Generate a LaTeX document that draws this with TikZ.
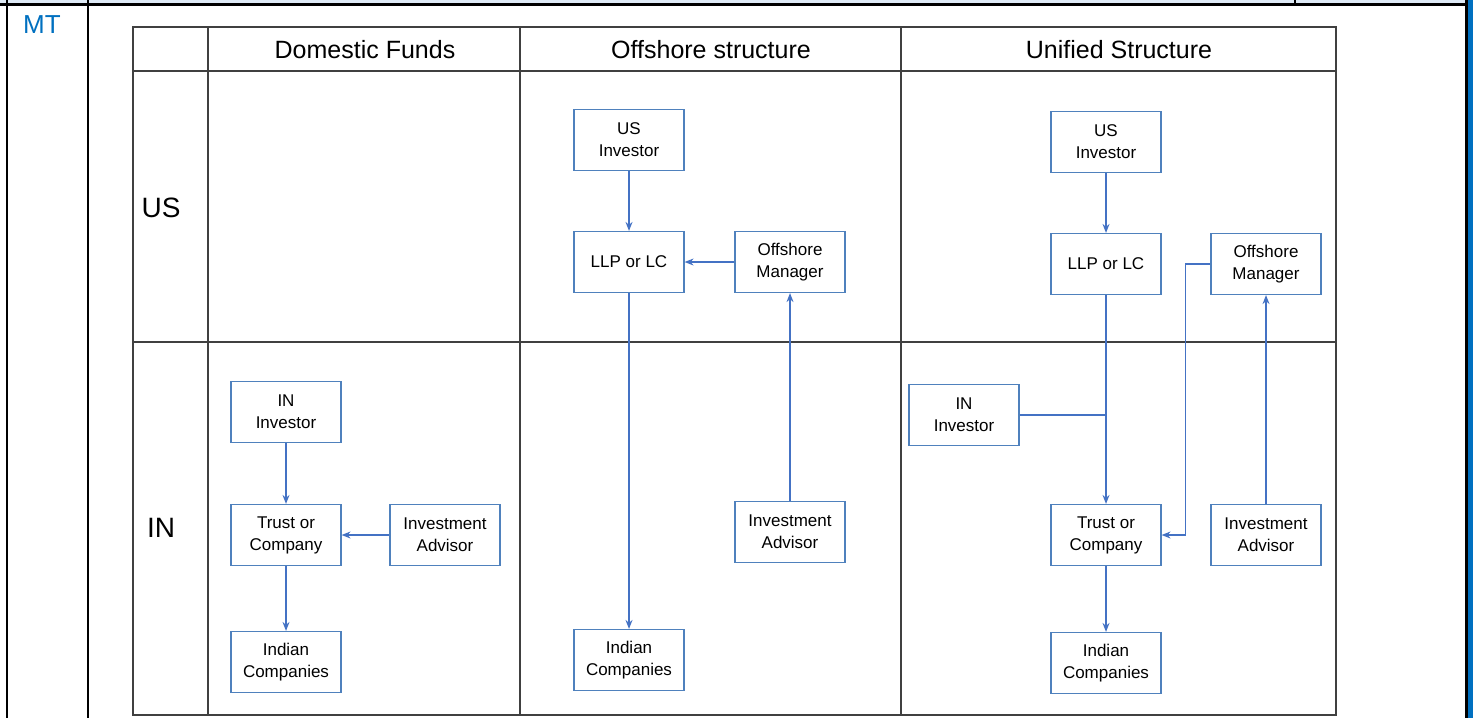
\documentclass[tikz,border=0pt]{standalone}
\usepackage{fontspec}
\setmainfont{Liberation Sans}
\usetikzlibrary{arrows.meta, positioning}
\definecolor{rahmen}{HTML}{404040}
\definecolor{kasten}{HTML}{4F81BD}
\definecolor{pfeil}{HTML}{4472C4}
\definecolor{kopf}{HTML}{DEEAF6}
\definecolor{marke}{HTML}{0070C0}

\begin{document}
\begin{tikzpicture}[
        x=0.5pt, y=-0.5pt,
        box/.style={draw=kasten, fill=white, line width=0.6pt,
          minimum width=55pt, minimum height=30.5pt, inner sep=1pt,
          align=center, font=\fontsize{8.5}{11}\selectfont},
        flow/.style={draw=pfeil, line width=0.6pt,
          -{Stealth[length=4.5pt, width=3.5pt]}},
        link/.style={draw=pfeil, line width=0.6pt},
        grid/.style={draw=rahmen, line width=0.8pt},
        title/.style={font=\fontsize{12.5}{15}\selectfont},
        rowlabel/.style={font=\fontsize{14}{16}\selectfont},
      ]
      \useasboundingbox (0,0) rectangle (1476,718);

      % outer table
      \fill[kopf] (0,0) rectangle (1467,4);
      \draw[line width=1.4pt] (0,4.5) -- (1467,4.5);
      \draw[line width=1.4pt] (1295,0) -- (1295,4.5);
      \draw[line width=1.4pt] (7,0) -- (7,718);
      \draw[line width=1.4pt] (88,0) -- (88,718);
      \draw[line width=1.2pt] (1466.5,0) -- (1466.5,718);
      \fill[marke] (1468,0) rectangle (1473,718);
      \node[marke, font=\fontsize{13}{15}\selectfont] (mt) at (42,25) {MT};

      % inner table
      \draw[grid] (133,27) rectangle (1336,715);
      \draw[grid] (133,71) -- (1336,71);
      \draw[grid] (133,342) -- (1336,342);
      \foreach \gx in {208,520,901}
        \draw[grid] (\gx,27) -- (\gx,715);

      \node[title] (hDom) at (365,50) {Domestic Funds};
      \node[title] (hOff) at (711,50) {Offshore structure};
      \node[title] (hUni) at (1119,50) {Unified Structure};
      \node[rowlabel] (rUS) at (161,208) {US};
      \node[rowlabel] (rIN) at (161,528) {IN};

      % domestic funds
      \node[box] (dInv) at (286,412) {IN\\Investor};
      \node[box] (dTrust) at (286,535) {Trust or\\Company};
      \node[box] (dAdv) at (445,535) {Investment\\Advisor};
      \node[box] (dCos) at (286,662) {Indian\\Companies};
      \draw[flow] (dInv) -- (dTrust);
      \draw[flow] (dAdv) -- (dTrust);
      \draw[flow] (dTrust) -- (dCos);

      % offshore structure
      \node[box] (oInv) at (629,140) {US\\Investor};
      \node[box] (oLLP) at (629,262) {LLP or LC};
      \node[box] (oMgr) at (790,262) {Offshore\\Manager};
      \node[box] (oAdv) at (790,532) {Investment\\Advisor};
      \node[box] (oCos) at (629,660) {Indian\\Companies};
      \draw[flow] (oInv) -- (oLLP);
      \draw[flow] (oMgr) -- (oLLP);
      \draw[flow] (oAdv) -- (oMgr);
      \draw[flow] (oLLP) -- (oCos);

      % unified structure
      \node[box] (uInv) at (1106,142) {US\\Investor};
      \node[box] (uLLP) at (1106,264) {LLP or LC};
      \node[box] (uMgr) at (1266,264) {Offshore\\Manager};
      \node[box] (uINInv) at (964,415) {IN\\Investor};
      \node[box] (uTrust) at (1106,535) {Trust or\\Company};
      \node[box] (uAdv) at (1266,535) {Investment\\Advisor};
      \node[box] (uCos) at (1106,663) {Indian\\Companies};
      \draw[flow] (uInv) -- (uLLP);
      \draw[flow] (uLLP) -- (uTrust);
      \coordinate (uJoin) at (uINInv.east -| uLLP.south);
      \draw[link] (uINInv.east) -- (uJoin);
      \draw[flow] (uMgr.west) -- ++(-25,0) |- (uTrust.east);
      \draw[flow] (uAdv) -- (uMgr);
      \draw[flow] (uTrust) -- (uCos);
    \end{tikzpicture}
\end{document}
